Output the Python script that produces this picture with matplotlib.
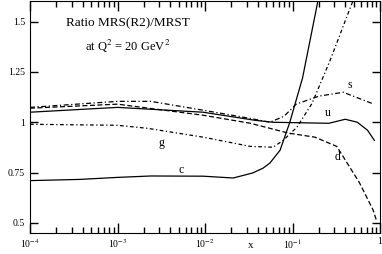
import numpy as np
import matplotlib
matplotlib.use("Agg")
import matplotlib.pyplot as plt

plt.rcParams['font.family'] = ['Liberation Serif', 'DejaVu Serif']
plt.rcParams['mathtext.fontset'] = 'stix'

# ratio curves MRS(R2)/MRST
s_x = [1e-4, 1e-3, 2.4e-3, 9.5e-3, 0.032, 0.055, 0.08, 0.11, 0.2, 0.38, 0.85]
s_y = [1.074, 1.104, 1.104, 1.06, 1.02, 1.0, 1.03, 1.09, 1.13, 1.149, 1.09]

u_x = [1e-4, 1e-3, 9.5e-3, 0.037, 0.06, 0.26, 0.4, 0.55, 0.72, 0.86]
u_y = [1.05, 1.074, 1.05, 1.01, 1.0, 0.995, 1.015, 1.0, 0.96, 0.91]

d_x = [1e-4, 1e-3, 9.5e-3, 0.033, 0.09, 0.18, 0.32, 0.58, 0.83, 0.92]
d_y = [1.07, 1.09, 1.035, 0.995, 0.946, 0.926, 0.88, 0.70, 0.565, 0.505]

g_x = [1e-4, 1e-3, 2.2e-3, 9.5e-3, 0.033, 0.06, 0.078, 0.112, 0.167, 0.268, 0.49]
g_y = [0.99, 0.985, 0.97, 0.926, 0.88, 0.876, 0.91, 0.975, 1.094, 1.307, 1.604]

c_x = [1e-4, 3.7e-4, 1e-3, 2.4e-3, 9.5e-3, 0.021, 0.035, 0.046, 0.055, 0.072, 0.093, 0.13, 0.195]
c_y = [0.71, 0.716, 0.726, 0.733, 0.732, 0.723, 0.748, 0.772, 0.797, 0.861, 1.0, 1.22, 1.604]

fig = plt.figure(figsize=(3.82, 2.54), dpi=100)
fig.subplots_adjust(left=0.0785, right=0.995, bottom=0.083, top=0.997)
ax = fig.add_subplot(111)

lw = 0.9
ax.plot(s_x, s_y, color="black", lw=lw, ls=(0, (4, 2, 1, 2)))
ax.plot(u_x, u_y, color="black", lw=lw, ls="-")
ax.plot(d_x, d_y, color="black", lw=lw, ls=(0, (4, 2)))
ax.plot(g_x, g_y, color="black", lw=lw, ls=(0, (3, 2, 1, 2)))
ax.plot(c_x, c_y, color="black", lw=lw, ls="-")

ax.set_xscale("log")
ax.set_xlim(1e-4, 1)
ax.set_ylim(0.45, 1.604)
ax.set_yticks([0.5, 0.75, 1, 1.25, 1.5])
ax.set_yticklabels(["0.5", "0.75", "1", "1.25", "1.5"])
ax.set_xticks([1e-4, 1e-3, 1e-2, 1e-1, 1])
ax.set_xticklabels([r"10$^{-4}$", r"10$^{-3}$", r"10$^{-2}$", r"10$^{-1}$", "1"])

ax.tick_params(which="both", direction="in", top=True, right=True, labelsize=7)
ax.tick_params(axis="y", which="major", length=6, width=1)
ax.tick_params(axis="x", which="major", length=7, width=1, pad=3)
ax.tick_params(axis="x", which="minor", length=4, width=1)
ax.yaxis.set_minor_locator(matplotlib.ticker.NullLocator())

fig.text(251 / 382, 1 - 246 / 254, "x", fontsize=8, ha="center", va="center")

ax.text(0.28, 0.905, "Ratio MRS(R2)/MRST", transform=ax.transAxes,
        ha="center", va="center", fontsize=9.5)
ax.text(0.28, 0.805, r"at Q$^2$ = 20 GeV$^2$", transform=ax.transAxes,
        ha="center", va="center", fontsize=9)

ax.text(0.454, 1.183, "s", fontsize=8.5, ha="center", va="center")
ax.text(0.255, 1.045, "u", fontsize=8.5, ha="center", va="center")
ax.text(3.2e-3, 0.896, "g", fontsize=8.5, ha="center", va="center")
ax.text(0.33, 0.827, "d", fontsize=8.5, ha="center", va="center")
ax.text(5.3e-3, 0.762, "c", fontsize=8.5, ha="center", va="center")

fig.savefig("out.png", dpi=100)
